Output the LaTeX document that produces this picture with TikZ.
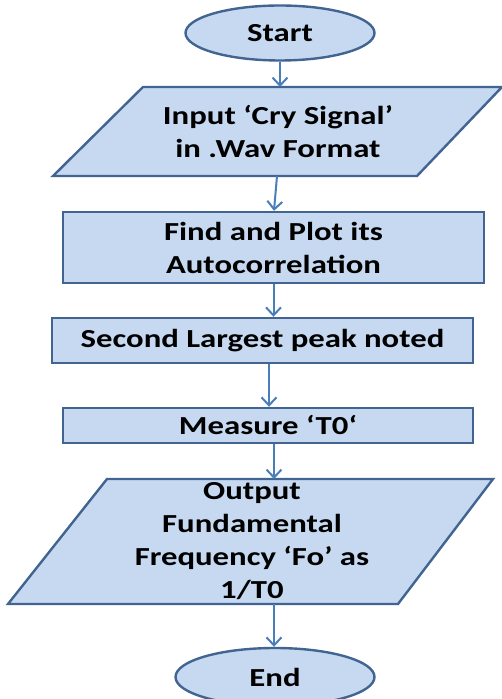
\documentclass[tikz,border=0pt]{standalone}
\usepackage{fontspec}
\setmainfont{Carlito}[FakeStretch=1.26]
\usetikzlibrary{shapes.geometric,arrows.meta}
\definecolor{boxfill}{RGB}{198,217,241}
\definecolor{boxline}{RGB}{65,100,145}
\definecolor{arrowc}{RGB}{74,126,187}
\begin{document}
\begin{tikzpicture}[x=1pt,y=1pt,
  shapebox/.style={draw=boxline,fill=boxfill,line width=2.4pt,line join=miter},
  txt/.style={font=\fontsize{26}{33}\selectfont\bfseries,align=center,inner sep=0pt},
  term/.style={shapebox,ellipse,inner sep=0pt,txt},
  procbox/.style={shapebox,rectangle,inner sep=0pt,txt},
  arr/.style={draw=arrowc,line width=2pt,-{Straight Barb[length=8pt,width=15pt,line width=2pt]}}]
\useasboundingbox (0,0) rectangle (502,699);
% Start
\node[term,minimum width=189pt,minimum height=55pt] (start) at (280,666) {Start};
% Input parallelogram
\coordinate (p1tl) at (143,612);
\coordinate (p1tr) at (502,612);
\coordinate (p1br) at (417,523);
\coordinate (p1bl) at (53,523);
\draw[shapebox] (p1tl) -- (p1tr) -- (p1br) -- (p1bl) -- cycle;
\node[txt] (in) at (278,567) {Input ‘Cry Signal’\\in .Wav Format};
\coordinate (p1top) at (280,612);
\coordinate (p1bot) at (277,523);
% Process boxes
\node[procbox,minimum width=421pt,minimum height=71pt] (b1) at (273.5,451.5) {Find and Plot its\\Autocorrelation};
\node[procbox,minimum width=421pt,minimum height=45pt] (b2) at (262.5,358.5) {Second Largest peak noted};
\node[procbox,minimum width=410pt,minimum height=35pt] (b3) at (268,273.5) {Measure ‘T0‘};
% Output parallelogram
\coordinate (p2tl) at (107,220);
\coordinate (p2tr) at (493,220);
\coordinate (p2br) at (398,95);
\coordinate (p2bl) at (8,95);
\draw[shapebox] (p2tl) -- (p2tr) -- (p2br) -- (p2bl) -- cycle;
\node[txt] (out) at (252,157.5) {Output\\Fundamental\\Frequency ‘Fo’ as\\1/T0};
\coordinate (p2top) at (274,220);
\coordinate (p2bot) at (274,95);
% End
\node[term,minimum width=199pt,minimum height=58pt] (end) at (275,22) {End};
% Arrows
\draw[arr] (start.south) -- (p1top);
\draw[arr] (p1bot) -- ([xshift=0.5pt]b1.north);
\draw[arr] (b1.south) -- (b1.south |- b2.north);
\draw[arr] ([xshift=6.5pt]b2.south) -- ([xshift=1pt]b3.north);
\draw[arr] ([xshift=6pt]b3.south) -- (p2top);
\draw[arr] (p2bot) -- (p2bot |- end.north);
\end{tikzpicture}
\end{document}
